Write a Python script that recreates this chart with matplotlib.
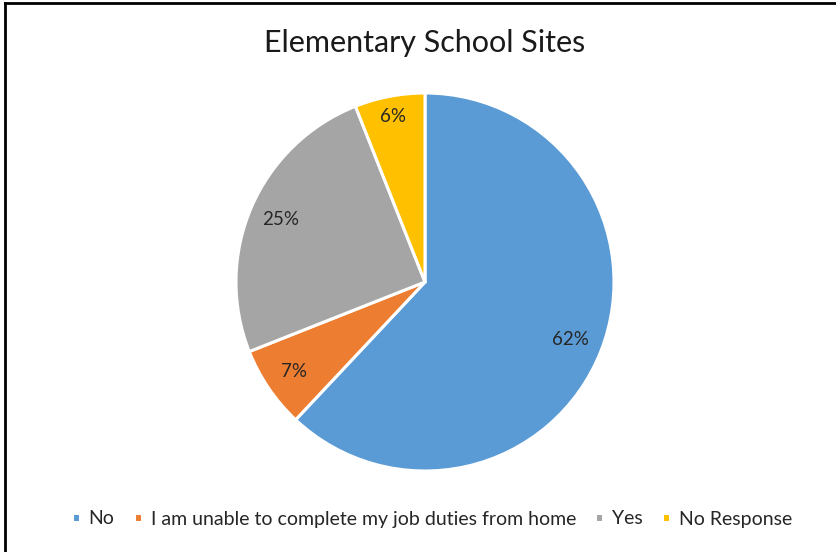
import matplotlib
matplotlib.use("Agg")
import matplotlib.pyplot as plt
from matplotlib.lines import Line2D
import numpy as np

plt.rcParams['font.family'] = ['Lato', 'DejaVu Sans']

categories = ["No", "I am unable to complete my job duties from home", "Yes", "No Response"]
values = [62, 7, 25, 6]
labels_pct = ["62%", "7%", "25%", "6%"]
colors = ["#5B9BD5", "#ED7D31", "#A5A5A5", "#FFC000"]
label_dist = [0.83, 0.84, 0.83, 0.89]

W, H = 837, 552
fig = plt.figure(figsize=(W / 100, H / 100), dpi=100)
fig.patch.set_facecolor("white")

cx, cy, r = 425, 552 - 282, 189
ax = fig.add_axes([(cx - r) / W, (cy - r) / H, 2 * r / W, 2 * r / H])
wedges, _ = ax.pie(values, colors=colors, startangle=90, counterclock=False,
                   wedgeprops=dict(edgecolor="white", linewidth=2.2), radius=1.0)
ax.set_xlim(-1, 1)
ax.set_ylim(-1, 1)
ax.set_aspect("equal")
ax.axis("off")

for w, lab, d in zip(wedges, labels_pct, label_dist):
    ang = np.deg2rad((w.theta1 + w.theta2) / 2)
    ax.text(d * np.cos(ang), d * np.sin(ang), lab, ha="center", va="center",
            fontsize=13.5, color="#262626")

fig.text(425 / W, 1 - 43 / H, "Elementary School Sites", ha="center", va="center",
         fontsize=22, color="#1a1a1a")

leg = fig.legend(wedges, categories, loc="center", bbox_to_anchor=(432 / W, 1 - 519 / H),
                 ncol=4, frameon=False, fontsize=14, handlelength=0.4, handleheight=0.4,
                 handletextpad=0.45, columnspacing=1.0)
for t in leg.get_texts():
    t.set_color("#262626")

# figure border (top and left)
fig.add_artist(Line2D([5 / W, 1], [1 - 2.5 / H, 1 - 2.5 / H], color="black", lw=2,
                      transform=fig.transFigure))
fig.add_artist(Line2D([5.5 / W, 5.5 / W], [0, 1 - 2.5 / H], color="black", lw=2,
                      transform=fig.transFigure))

fig.savefig("out.png", dpi=100, facecolor="white")
